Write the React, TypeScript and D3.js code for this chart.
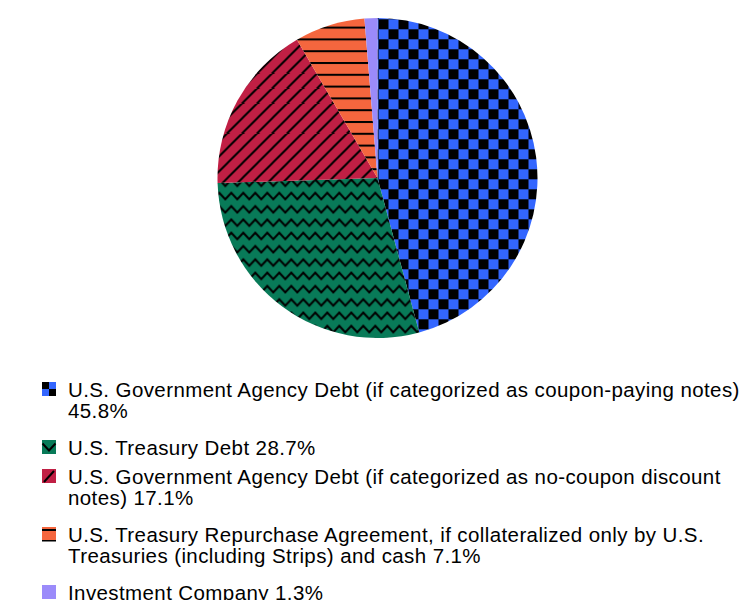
import React, { useRef, useEffect } from 'react';
import * as d3 from 'd3';

const categories = [
  'U.S. Government Agency Debt (if categorized as coupon-paying notes)',
  'U.S. Treasury Debt',
  'U.S. Government Agency Debt (if categorized as no-coupon discount notes)',
  'U.S. Treasury Repurchase Agreement, if collateralized only by U.S. Treasuries (including Strips) and cash',
  'Investment Company',
];
const values = [45.8, 28.7, 17.1, 7.1, 1.3];
const colors = ['#3366ff', '#087a58', '#c01f44', '#f5663e', '#9b8bfa'];
const patternNames = ['checker', 'zigzag', 'diagonal', 'hlines', 'solid'];

const W = 756;
const H = 600;

const App: React.FC = () => {
  const svgRef = useRef<SVGSVGElement>(null);

  useEffect(() => {
    if (!svgRef.current) return;
    const svg = d3.select(svgRef.current);
    svg.selectAll('*').remove();

    const cx = 377.5;
    const cy = 178;
    const radius = 160;

    const defs = svg.append('defs');

    // big patterns for the slices (user space of the centred group)
    const checker = defs
      .append('pattern')
      .attr('id', 'p-checker')
      .attr('patternUnits', 'userSpaceOnUse')
      .attr('x', 1)
      .attr('y', 1.3)
      .attr('width', 20)
      .attr('height', 20);
    checker.append('rect').attr('width', 20).attr('height', 20).attr('fill', colors[0]);
    checker.append('rect').attr('width', 10).attr('height', 10).attr('fill', '#000');
    checker.append('rect').attr('x', 10).attr('y', 10).attr('width', 10).attr('height', 10).attr('fill', '#000');

    const zig = defs
      .append('pattern')
      .attr('id', 'p-zigzag')
      .attr('patternUnits', 'userSpaceOnUse')
      .attr('x', -2.2)
      .attr('y', 0)
      .attr('width', 12)
      .attr('height', 13.3);
    zig.append('rect').attr('width', 12).attr('height', 13.3).attr('fill', colors[1]);
    zig
      .append('path')
      .attr('d', 'M-6 8 L0 1.5 L6 8 L12 1.5 L18 8')
      .attr('fill', 'none')
      .attr('stroke', '#000')
      .attr('stroke-width', 2);

    const diag = defs
      .append('pattern')
      .attr('id', 'p-diagonal')
      .attr('patternUnits', 'userSpaceOnUse')
      .attr('width', 15)
      .attr('height', 15);
    diag.append('rect').attr('width', 15).attr('height', 15).attr('fill', colors[2]);
    diag
      .append('path')
      .attr('d', 'M0 15 L15 0 M-2 2 L2 -2 M13 17 L17 13')
      .attr('stroke', '#000')
      .attr('stroke-width', 2);

    const hl = defs
      .append('pattern')
      .attr('id', 'p-hlines')
      .attr('patternUnits', 'userSpaceOnUse')
      .attr('y', 2)
      .attr('width', 12)
      .attr('height', 11.8);
    hl.append('rect').attr('width', 12).attr('height', 11.8).attr('fill', colors[3]);
    hl.append('rect').attr('y', 0).attr('width', 12).attr('height', 2).attr('fill', '#000');

    const fillFor = (i: number) =>
      patternNames[i] === 'solid' ? colors[i] : `url(#p-${patternNames[i]})`;

    // pie
    const pie = d3
      .pie<number>()
      .value((d) => d)
      .sort(null);
    const arc = d3.arc<d3.PieArcDatum<number>>().innerRadius(0).outerRadius(radius);

    const g = svg.append('g').attr('transform', `translate(${cx},${cy})`);
    g.selectAll('path')
      .data(pie(values))
      .enter()
      .append('path')
      .attr('d', arc)
      .attr('fill', (d, i) => fillFor(i));

    // legend
    const fontSize = 20.5;
    const lineH = 21;
    const textX = 68;
    const maxW = 682;
    const iconX = 42;
    const iconS = 14;

    const legend = svg
      .append('g')
      .attr('font-family', 'Arial, "Liberation Sans", sans-serif')
      .attr('font-size', fontSize)
      .attr('letter-spacing', 0.4)
      .attr('fill', '#000');

    let y = 397;
    categories.forEach((cat, i) => {
      const label = `${cat} ${values[i]}%`;
      const item = legend.append('g');

      // icon
      const icon = item.append('g').attr('transform', `translate(${iconX},${y - 15})`);
      if (i === 0) {
        icon.append('rect').attr('width', iconS).attr('height', iconS).attr('fill', colors[0]);
        icon.append('rect').attr('width', 7).attr('height', 7).attr('fill', '#000');
        icon.append('rect').attr('x', 7).attr('y', 7).attr('width', 7).attr('height', 7).attr('fill', '#000');
      } else if (i === 1) {
        icon.append('rect').attr('width', iconS).attr('height', iconS).attr('fill', colors[1]);
        icon
          .append('path')
          .attr('d', 'M0.5 3.5 L7 10.5 L13.5 3.5')
          .attr('fill', 'none')
          .attr('stroke', '#000')
          .attr('stroke-width', 2);
      } else if (i === 2) {
        icon.append('rect').attr('width', iconS).attr('height', iconS).attr('fill', colors[2]);
        icon
          .append('path')
          .attr('d', 'M2 13 L12 2')
          .attr('stroke', '#000')
          .attr('stroke-width', 2);
      } else if (i === 3) {
        icon.append('rect').attr('width', iconS).attr('height', iconS).attr('fill', colors[3]);
        icon.append('rect').attr('y', 2).attr('width', iconS).attr('height', 2).attr('fill', '#000');
        icon.append('rect').attr('y', 13).attr('width', iconS).attr('height', 1.5).attr('fill', '#000');
      } else {
        icon.append('rect').attr('width', iconS).attr('height', iconS).attr('fill', colors[4]);
      }

      // wrapped text
      const text = item.append('text').attr('x', textX).attr('y', y);
      const words = label.split(' ');
      let line: string[] = [];
      let tspan = text.append('tspan').attr('x', textX).attr('dy', 0);
      let lines = 1;
      words.forEach((w) => {
        line.push(w);
        tspan.text(line.join(' '));
        if ((tspan.node() as SVGTSpanElement).getComputedTextLength() > maxW && line.length > 1) {
          line.pop();
          tspan.text(line.join(' '));
          line = [w];
          tspan = text.append('tspan').attr('x', textX).attr('dy', lineH).text(w);
          lines += 1;
        }
      });
      y += lines * 29;
    });
  }, []);

  return (
    <div style={{ position: 'absolute', left: 0, top: 0 }}>
      <svg ref={svgRef} width={W} height={H} style={{ display: 'block' }} />
    </div>
  );
};

export default App;
